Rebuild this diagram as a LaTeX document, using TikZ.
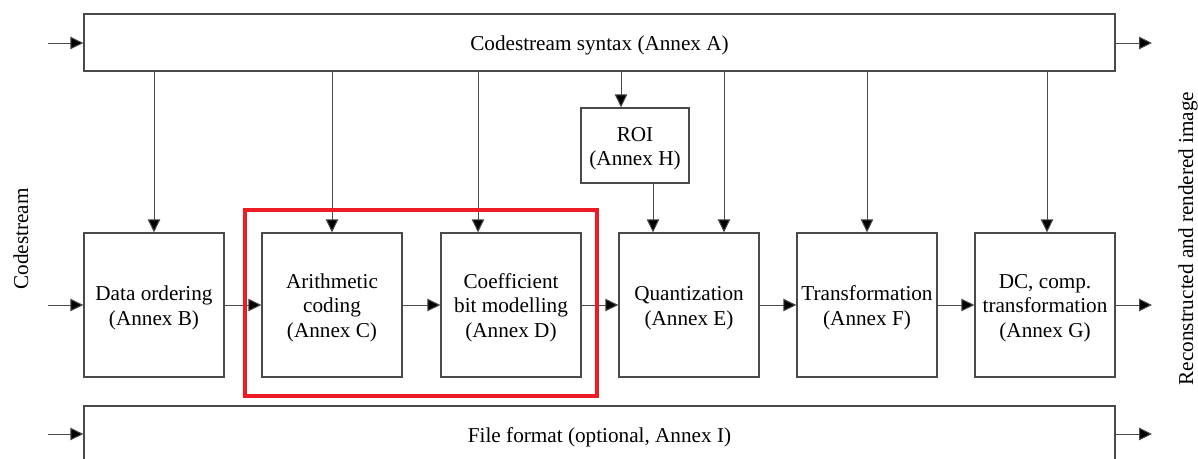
\documentclass[tikz,border=0pt]{standalone}
\usepackage{fontspec}
\setmainfont{Liberation Serif}
\usetikzlibrary{arrows.meta}
\definecolor{boxgray}{HTML}{4A4A4A}
\definecolor{hlred}{HTML}{ED1C24}
\newcommand{\boxtext}[1]{\raisebox{-3pt}[\height][\depth]{\begin{tabular}{@{}c@{}}#1\end{tabular}}}
\begin{document}
\begin{tikzpicture}[x=1pt,y=-1pt,
  txt/.style={font=\fontsize{21.2}{24.5}\selectfont},
  blk/.style={txt, draw=boxgray, line width=1.3pt, fill=white, minimum width=140pt, minimum height=144pt, inner sep=0pt},
  bar/.style={txt, draw=boxgray, line width=1.3pt, fill=white, minimum width=1031pt, minimum height=57pt, inner sep=0pt},
  arr/.style={draw=boxgray, line width=1pt, -{Triangle[length=13pt,width=12.5pt,fill=black]}}]
\useasboundingbox (0,0) rectangle (1198,458);
% bars
\node[bar] (syn) at (599.5,42.5) {\boxtext{Codestream syntax (Annex A)}};
\node[bar] (ff) at (599.5,434.5) {\boxtext{File format (optional, Annex I)}};
% blocks
\node[blk] (dord) at (154,305) {\boxtext{Data ordering\\(Annex B)}};
\node[blk] (arith) at (332,305) {\boxtext{Arithmetic\\coding\\(Annex C)}};
\node[blk] (coef) at (511,305) {\boxtext{Coefficient\\bit modelling\\(Annex D)}};
\node[blk] (quant) at (689,305) {\boxtext{Quantization\\(Annex E)}};
\node[blk] (trans) at (867,305) {\boxtext{Transformation\\(Annex F)}};
\node[blk] (dc) at (1045,305) {\boxtext{DC, comp.\\transformation\\(Annex G)}};
\node[blk, minimum width=108pt, minimum height=75pt] (roi) at (635,145.5) {\boxtext{ROI\\(Annex H)}};
% side labels
\node[txt, rotate=90] (cs) at (20.8,239) {Codestream};
\node[txt, rotate=90] (rec) at (1188,238.5) {Reconstructed and rendered image};
% in/out coordinates
\coordinate (in1) at (48,43);
\coordinate (in2) at (48,305);
\coordinate (in3) at (48,434);
\coordinate (out1) at (1152,43);
\coordinate (out2) at (1152,305);
\coordinate (out3) at (1152,434);
\draw[arr] (in1) -- (in1 -| syn.west);
\draw[arr] (in2) -- (dord.west);
\draw[arr] (in3) -- (in3 -| ff.west);
\draw[arr] (syn.east |- out1) -- (out1);
\draw[arr] (dc.east) -- (out2);
\draw[arr] (ff.east |- out3) -- (out3);
% chain
\draw[arr] (dord.east) -- (arith.west);
\draw[arr] (arith.east) -- (coef.west);
\draw[arr] (coef.east) -- (quant.west);
\draw[arr] (quant.east) -- (trans.west);
\draw[arr] (trans.east) -- (dc.west);
% verticals
\coordinate (v3) at ([xshift=-33pt]coef.north);
\coordinate (v4) at ([xshift=-14pt]roi.north);
\coordinate (v5) at ([xshift=-36pt]quant.north);
\coordinate (v6) at ([xshift=35pt]quant.north);
\coordinate (v8) at ([xshift=2pt]dc.north);
\draw[arr] (syn.south -| dord.north) -- (dord.north);
\draw[arr] (syn.south -| arith.north) -- (arith.north);
\draw[arr] (syn.south -| v3) -- (v3);
\draw[arr] (syn.south -| v4) -- (v4);
\draw[arr] (roi.south -| v5) -- (v5);
\draw[arr] (syn.south -| v6) -- (v6);
\draw[arr] (syn.south -| trans.north) -- (trans.north);
\draw[arr] (syn.south -| v8) -- (v8);
% highlight
\node[draw=hlred, line width=4pt, minimum width=352pt, minimum height=186pt, inner sep=0pt] (hl) at (421,303) {};
\end{tikzpicture}
\end{document}
